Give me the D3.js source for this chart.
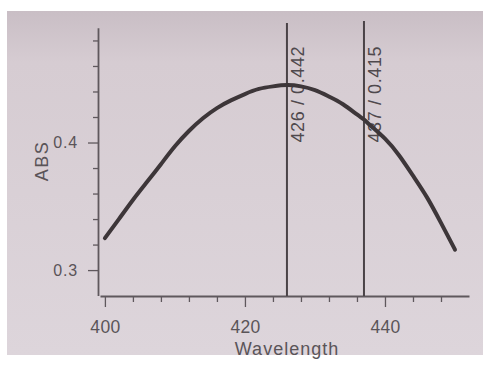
<!DOCTYPE html>
<html><head><meta charset="utf-8">
<script src="https://cdn.jsdelivr.net/npm/d3@7"></script>
<style>
html,body{margin:0;padding:0;background:#fff;}
svg{display:block;font-family:"Liberation Sans",Arial,sans-serif;}
</style></head>
<body>
<svg id="c" width="483" height="365"></svg>
<script>
// Data
const wavelength = [400,402,404,406,408,410,412,414,416,418,420,422,424,426,428,430,432,434,436,437,438,440,442,444,446,448,450];
const absorbance = [0.325,0.340,0.355,0.369,0.383,0.397,0.409,0.419,0.427,0.433,0.438,0.442,0.444,0.445,0.444,0.441,0.436,0.430,0.422,0.418,0.413,0.403,0.390,0.374,0.357,0.337,0.316];
const markerWavelengths = [426, 437];
const markerLabels = ["426 / 0.442", "437 / 0.415"];
const xMajorTicks = [400, 420, 440];
const xMinorTicks = [404,408,412,416,424,428,432,436,444,448];
const yMajorTicks = [0.3, 0.4];
const yMinorTicks = [0.32,0.34,0.36,0.38,0.42,0.44,0.46,0.48];
const xTitle = "Wavelength";
const yTitle = "ABS";

const svg = d3.select("#c");
// paper background
const defs = svg.append("defs");
const g = defs.append("linearGradient").attr("id","paper").attr("x1",0).attr("y1",0).attr("x2",0).attr("y2",1);
g.append("stop").attr("offset","0").attr("stop-color","#c9bec5");
g.append("stop").attr("offset","0.15").attr("stop-color","#d6ccd2");
g.append("stop").attr("offset","1").attr("stop-color","#ddd5db");
svg.append("rect").attr("x",7).attr("y",11).attr("width",476).attr("height",344).attr("fill","url(#paper)");

const x = d3.scaleLinear().domain([399.3, 452]).range([100, 469]);
const y = d3.scaleLinear().domain([0.28, 0.49]).range([295.6, 27.7]);

const axisColor = "#5f585d", textColor = "#5a5458";

// x axis
const xAxisG = svg.append("g").attr("transform","translate(0,296)");
xAxisG.call(d3.axisBottom(x).tickValues(xMajorTicks).tickSize(11).tickSizeOuter(0).tickFormat(d3.format("d")));
const xMinorG = svg.append("g").attr("transform","translate(0,296)");
xMinorG.call(d3.axisBottom(x).tickValues(xMinorTicks).tickSize(6).tickSizeOuter(0).tickFormat(""));
xMinorG.select(".domain").remove();
// y axis
const yAxisG = svg.append("g").attr("transform","translate(98,0)");
yAxisG.call(d3.axisLeft(y).tickValues(yMajorTicks).tickSize(10).tickPadding(10).tickSizeOuter(0).tickFormat(d3.format(".1f")));
const yMinorG = svg.append("g").attr("transform","translate(98,0)");
yMinorG.call(d3.axisLeft(y).tickValues(yMinorTicks).tickSize(5).tickSizeOuter(0).tickFormat(""));
yMinorG.select(".domain").remove();

svg.selectAll(".domain").attr("stroke",axisColor).attr("stroke-width",1.8);
svg.selectAll(".tick line").attr("stroke",axisColor).attr("stroke-width",1.3);
xAxisG.selectAll(".tick text").attr("fill",textColor).attr("font-size",17.5).attr("dy",23)
  .attr("letter-spacing","0.3px").attr("font-family","Liberation Sans, Arial, sans-serif");
yAxisG.selectAll(".tick text").attr("fill",textColor).attr("font-size",16).attr("letter-spacing","0.8px")
  .attr("font-family","Liberation Sans, Arial, sans-serif");

// titles
svg.append("text").attr("x", 287).attr("y", 355).attr("text-anchor","middle")
  .attr("font-size",18).attr("letter-spacing","1px").attr("fill",textColor).text(xTitle);
svg.append("text").attr("transform","translate(48,161) rotate(-90)").attr("text-anchor","middle")
  .attr("font-size",18).attr("letter-spacing","1.5px").attr("fill",textColor).text(yTitle);

// marker lines
markerWavelengths.forEach((w,i)=>{
  svg.append("line").attr("x1",x(w)).attr("x2",x(w)).attr("y1",296).attr("y2", i===0?23:21)
    .attr("stroke","#4a4347").attr("stroke-width",2);
  svg.append("text").attr("transform","translate("+(x(w)+17)+","+y(0.4)+") rotate(-90)")
    .attr("font-size",18).attr("letter-spacing","0.6px").attr("fill","#4f494d").text(markerLabels[i]);
});

// curve
const pts = wavelength.map((w,i)=>[w, absorbance[i]]);
svg.append("path").datum(pts)
  .attr("d", d3.line().x(d=>x(d[0])).y(d=>y(d[1])).curve(d3.curveNatural))
  .attr("fill","none").attr("stroke","#3d3639").attr("stroke-width",4).attr("stroke-linecap","round");
</script>
</body></html>
